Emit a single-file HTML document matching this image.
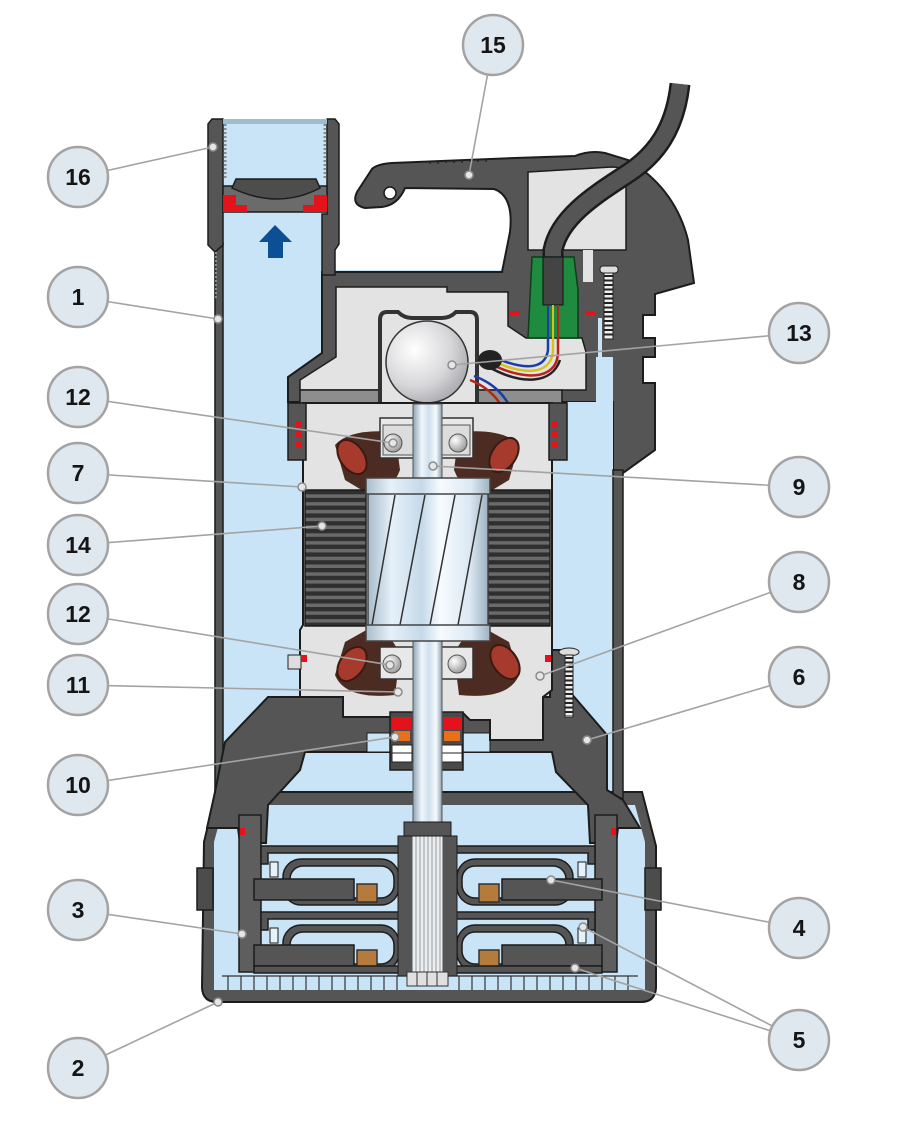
<!DOCTYPE html>
<html><head><meta charset="utf-8"><style>html,body{margin:0;padding:0;background:#fff;}svg{display:block;}</style></head>
<body>
<svg width="904" height="1141" viewBox="0 0 904 1141" xmlns="http://www.w3.org/2000/svg">
<defs>
<linearGradient id="gShaft" x1="0" x2="1" y1="0" y2="0">
<stop offset="0" stop-color="#8ea3b5"/><stop offset="0.3" stop-color="#eef5fb"/><stop offset="0.55" stop-color="#cfe0ee"/><stop offset="0.8" stop-color="#f5f9fc"/><stop offset="1" stop-color="#8a9cab"/>
</linearGradient>
<linearGradient id="gRotor" x1="0" x2="1">
<stop offset="0" stop-color="#a9bccb"/><stop offset="0.2" stop-color="#e6f1fa"/><stop offset="0.45" stop-color="#c5d9e8"/><stop offset="0.6" stop-color="#f7fbfe"/><stop offset="0.85" stop-color="#dbe8f3"/><stop offset="1" stop-color="#9fb1c0"/>
</linearGradient>
<radialGradient id="gCap" cx="0.35" cy="0.35" r="0.75">
<stop offset="0" stop-color="#ffffff"/><stop offset="0.6" stop-color="#d6d6d9"/><stop offset="1" stop-color="#a3a3a8"/>
</radialGradient>
<radialGradient id="gBall" cx="0.35" cy="0.35" r="0.7">
<stop offset="0" stop-color="#ffffff"/><stop offset="1" stop-color="#999"/>
</radialGradient>
<pattern id="pStator" x="0" y="490" width="10" height="7.8" patternUnits="userSpaceOnUse">
<rect width="10" height="7.8" fill="#6a6a6a"/><rect width="10" height="4.3" fill="#2f2f2f"/>
</pattern>
<g id="stage">
<path d="M261 846 L401 846 L401 853 L268 853 L268 864 L261 864 Z" fill="#555" stroke="#1c1c1c" stroke-width="1.5"/>
<rect x="283" y="859" width="116" height="46" rx="18" fill="#555" stroke="#1c1c1c" stroke-width="1.5"/>
<rect x="290" y="866" width="104" height="32" rx="13" fill="#c8e4f6" stroke="#1c1c1c" stroke-width="1.5"/>
<rect x="254" y="879" width="100" height="21" fill="#555" stroke="#1c1c1c" stroke-width="1.5"/>
<rect x="357" y="884" width="20" height="18" fill="#b57b3c" stroke="#333" stroke-width="1.5"/>
<rect x="270" y="862" width="8" height="15" fill="#e6f2fa" stroke="#1c1c1c" stroke-width="1"/>
</g>
</defs>

<!-- water -->
<rect x="214" y="120" width="120" height="160" fill="#c8e4f6"/>
<rect x="214" y="270" width="408" height="730" fill="#c8e4f6"/>

<!-- base shell -->
<path d="M216 792 L204 842 L202 988 Q203 1002 217 1002 L641 1002 Q655 1002 656 988 L656 846 L642 792 Z" fill="#555" stroke="#1c1c1c" stroke-width="2"/>
<path d="M224 805 L214 842 L214 990 L645 990 L645 842 L635 805 Z" fill="#c8e4f6"/>
<rect x="197" y="868" width="16" height="42" fill="#4c4c4c" stroke="#1c1c1c" stroke-width="1.5"/>
<rect x="645" y="868" width="16" height="42" fill="#4c4c4c" stroke="#1c1c1c" stroke-width="1.5"/>

<!-- top cover -->
<path d="M322 272 L502 272 L510 232 Q514 196 494 189 L405 188 Q398 205 382 207 L365 208 Q351 205 357 192 L372 169 Q377 164 392 163 L515 158 L575 156 Q590 150 605 153 L628 160 Q675 188 688 240 L694 283 L655 294 L655 315 L643 315 L643 338 L655 338 L655 357 L643 357 L643 383 L655 383 L655 450 L623 473 L613 473 L613 402 L288 402 L288 377 L322 353 Z" fill="#555" stroke="#1c1c1c" stroke-width="2"/>
<circle cx="390" cy="193" r="6" fill="#fff" stroke="#1c1c1c" stroke-width="1.5"/>
<g stroke="#1c1c1c" stroke-width="1.2">
<line x1="430" y1="161" x2="430" y2="164"/><line x1="438" y1="161" x2="438" y2="164"/><line x1="446" y1="160" x2="446" y2="163"/><line x1="454" y1="160" x2="454" y2="163"/><line x1="462" y1="160" x2="462" y2="163"/><line x1="470" y1="159" x2="470" y2="162"/><line x1="478" y1="159" x2="478" y2="162"/><line x1="486" y1="159" x2="486" y2="162"/>
</g>

<!-- blue channels right -->
<rect x="596" y="357" width="17" height="120" fill="#c8e4f6"/>
<rect x="567" y="402" width="46" height="80" fill="#c8e4f6"/>
<line x1="600" y1="318" x2="600" y2="357" stroke="#c8e4f6" stroke-width="4"/>

<!-- jacket walls -->
<rect x="613" y="470" width="10" height="328" fill="#555" stroke="#1c1c1c" stroke-width="1.5"/>
<rect x="215" y="243" width="8" height="550" fill="#555" stroke="#1c1c1c" stroke-width="1.5"/>

<!-- pipe fitting -->
<path d="M208 124 L212 119 L223 119 L223 245 L215 252 L208 245 Z" fill="#555" stroke="#1c1c1c" stroke-width="1.5"/>
<path d="M327 119 L335 119 L339 124 L339 244 L335 250 L335 275 L322 275 L322 214 L327 214 Z" fill="#555" stroke="#1c1c1c" stroke-width="1.5"/>
<rect x="223" y="119" width="104" height="5" fill="#9dbdd1"/>
<line x1="225" y1="124" x2="225" y2="178" stroke="#8a8a8a" stroke-width="3" stroke-dasharray="2 2"/>
<line x1="325" y1="124" x2="325" y2="178" stroke="#8a8a8a" stroke-width="3" stroke-dasharray="2 2"/>
<line x1="216" y1="252" x2="216" y2="300" stroke="#8a8a8a" stroke-width="2" stroke-dasharray="2 2"/>
<!-- valve -->
<rect x="223" y="186" width="104" height="26" fill="#6b6b6b" stroke="#1c1c1c" stroke-width="1.5"/>
<path d="M236 179 L316 179 L320 188 Q278 210 232 188 Z" fill="#4d4d4d" stroke="#1c1c1c" stroke-width="1.5"/>
<path d="M223 195 L236 195 L236 205 L247 205 L247 212 L223 212 Z" fill="#e3121b"/>
<path d="M327 195 L314 195 L314 205 L303 205 L303 212 L327 212 Z" fill="#e3121b"/>
<!-- arrow -->
<path d="M275 225 L292 242 L283 242 L283 258 L268 258 L268 242 L259 242 Z" fill="#0d4f94"/>

<!-- junction box -->
<path d="M528 172 L612 167 Q622 167 626 172 L626 250 L528 250 Z" fill="#e3e3e3" stroke="#1c1c1c" stroke-width="1.5"/>
<rect x="583" y="250" width="10" height="32" fill="#e3e3e3"/>
<!-- cable -->
<path d="M680 84 C675 130 655 155 630 172 C600 192 560 215 553 250 L553 258" fill="none" stroke="#1c1c1c" stroke-width="21"/>
<path d="M680 84 C675 130 655 155 630 172 C600 192 560 215 553 250 L553 258" fill="none" stroke="#555" stroke-width="16"/>
<!-- housing top interior -->
<polygon points="336,287 447,287 447,292 508,292 508,326 526,338 582,338 586,352 586,390 300,390 300,380 336,357" fill="#e3e3e3" stroke="#1c1c1c" stroke-width="1.5"/>
<!-- connector -->
<path d="M532 257 L574 257 L578 290 L578 338 L528 338 Z" fill="#1f8b3e" stroke="#0d3d1b" stroke-width="1.5"/>
<rect x="543" y="257" width="20" height="48" fill="#444" stroke="#111"/>
<line x1="548" y1="305" x2="548" y2="340" stroke="#1a3da8" stroke-width="2"/>
<line x1="553" y1="305" x2="553" y2="340" stroke="#d8c21a" stroke-width="2"/>
<line x1="558" y1="305" x2="558" y2="340" stroke="#b8231b" stroke-width="2"/>
<rect x="509" y="311" width="10" height="4" fill="#e3121b"/>
<rect x="586" y="311" width="10" height="4" fill="#e3121b"/>
<!-- screw top -->
<rect x="600" y="266" width="18" height="7" rx="3" fill="#ddd" stroke="#222"/>
<rect x="604" y="273" width="9" height="66" fill="#eee" stroke="#222"/>
<line x1="608.5" y1="275" x2="608.5" y2="337" stroke="#222" stroke-width="8" stroke-dasharray="2 2.5"/>

<!-- grey bar -->
<rect x="300" y="390" width="262" height="14" fill="#8e8e8e" stroke="#1c1c1c" stroke-width="1.5"/>
<!-- capacitor -->
<path d="M380 320 Q380 312 387 312 L398 312 Q404 318 412 318 L442 318 Q450 318 456 312 L470 312 Q477 312 477 320 L477 404 L380 404 Z" fill="#e3e3e3" stroke="#333" stroke-width="4"/>
<circle cx="427" cy="362" r="41" fill="url(#gCap)" stroke="#333" stroke-width="1.5"/>
<!-- wires -->
<path d="M487 354 C520 370 545 372 548 350 L548 338" fill="none" stroke="#1a3da8" stroke-width="2.5"/>
<path d="M487 358 C522 376 550 376 553 352 L553 338" fill="none" stroke="#d8c21a" stroke-width="2.5"/>
<path d="M487 362 C524 382 556 380 558 354 L558 338" fill="none" stroke="#b8231b" stroke-width="2.5"/>
<path d="M487 366 C522 386 552 384 560 360" fill="none" stroke="#222" stroke-width="2.5"/>
<ellipse cx="490" cy="360" rx="12" ry="10" fill="#222"/>
<path d="M470 380 C495 390 512 410 513 455" fill="none" stroke="#b8231b" stroke-width="2.5"/>
<path d="M474 376 C502 386 520 410 520 455" fill="none" stroke="#1a3da8" stroke-width="2.5"/>

<!-- lower dark housing (6) -->
<path d="M215 792 L225 742 L268 697 L550 697 L550 650 L568 650 L570 692 L607 735 L607 790 L623 800 L640 828 L618 828 L616 843 L590 843 L588 805 L556 772 L552 752 L305 752 L300 770 L268 805 L266 843 L240 843 L238 828 L207 828 Z" fill="#555" stroke="#1c1c1c" stroke-width="2"/>
<rect x="367" y="733" width="24" height="19" fill="#c8e4f6" stroke="#1c1c1c" stroke-width="1"/>
<rect x="462" y="733" width="28" height="19" fill="#c8e4f6" stroke="#1c1c1c" stroke-width="1"/>
<!-- screw 8 -->
<ellipse cx="569" cy="652" rx="10" ry="4" fill="#ddd" stroke="#222"/>
<rect x="565" y="655" width="8" height="62" fill="#eee" stroke="#222"/>
<line x1="569" y1="657" x2="569" y2="716" stroke="#222" stroke-width="7" stroke-dasharray="2 2.5"/>

<!-- motor housing light grey -->
<polygon points="303,403 552,403 552,690 543,697 543,740 490,740 490,720 470,720 463,713 393,713 390,717 343,717 343,697 300,697 300,630 303,625" fill="#e3e3e3" stroke="#1c1c1c" stroke-width="2"/>
<rect x="288" y="403" width="18" height="57" fill="#555" stroke="#1c1c1c" stroke-width="1.5"/>
<rect x="549" y="403" width="18" height="57" fill="#555" stroke="#1c1c1c" stroke-width="1.5"/>
<rect x="296" y="421" width="6" height="7" fill="#e3121b"/><rect x="296" y="431" width="6" height="7" fill="#e3121b"/><rect x="296" y="441" width="6" height="7" fill="#e3121b"/>
<rect x="552" y="421" width="6" height="7" fill="#e3121b"/><rect x="552" y="431" width="6" height="7" fill="#e3121b"/><rect x="552" y="441" width="6" height="7" fill="#e3121b"/>
<rect x="288" y="655" width="13" height="14" fill="#ddd" stroke="#222"/>
<rect x="301" y="655" width="6" height="7" fill="#e3121b"/>
<rect x="545" y="655" width="6" height="7" fill="#e3121b"/>

<!-- winding masses -->
<path d="M335 445 Q350 428 395 432 L400 470 Q390 495 370 495 L345 480 Z" fill="#4b2b22"/>
<path d="M335 445 Q350 428 395 432 L400 470 Q390 495 370 495 L345 480 Z" fill="#4b2b22" transform="matrix(-1 0 0 1 854 0)"/>
<path d="M335 675 Q345 700 395 695 L400 655 Q390 630 370 628 L345 642 Z" fill="#4b2b22"/>
<path d="M335 675 Q345 700 395 695 L400 655 Q390 630 370 628 L345 642 Z" fill="#4b2b22" transform="matrix(-1 0 0 1 854 0)"/>

<!-- bearings boxes -->
<rect x="380" y="418" width="93" height="40" fill="#e8e8e8" stroke="#333" stroke-width="1.5"/>
<rect x="383" y="425" width="87" height="30" fill="#dcdcdc" stroke="#555"/>
<rect x="380" y="647" width="93" height="32" fill="#e8e8e8" stroke="#333" stroke-width="1.5"/>

<!-- seal assembly -->
<rect x="390" y="712" width="73" height="58" fill="#4a4a4a" stroke="#1c1c1c" stroke-width="1.5"/>
<rect x="392" y="717" width="19" height="13" fill="#e3121b"/>
<rect x="443" y="717" width="19" height="13" fill="#e3121b"/>
<rect x="394" y="731" width="16" height="10" fill="#e8701a"/>
<rect x="444" y="731" width="16" height="10" fill="#e8701a"/>
<rect x="392" y="745" width="20" height="17" fill="#fff" stroke="#222"/>
<rect x="442" y="745" width="20" height="17" fill="#fff" stroke="#222"/>
<line x1="392" y1="753" x2="412" y2="753" stroke="#222"/><line x1="442" y1="753" x2="462" y2="753" stroke="#222"/>

<!-- shaft -->
<rect x="413" y="404" width="29" height="432" fill="url(#gShaft)" stroke="#555" stroke-width="1"/>
<circle cx="393" cy="443" r="9" fill="url(#gBall)" stroke="#555"/>
<circle cx="458" cy="443" r="9" fill="url(#gBall)" stroke="#555"/>
<circle cx="392" cy="664" r="9" fill="url(#gBall)" stroke="#555"/>
<circle cx="457" cy="664" r="9" fill="url(#gBall)" stroke="#555"/>

<!-- coils -->
<ellipse cx="352" cy="457" rx="19" ry="12" transform="rotate(55 352 457)" fill="#a63a2c" stroke="#3a1a12" stroke-width="2"/>
<ellipse cx="504" cy="455" rx="19" ry="12" transform="rotate(-55 504 455)" fill="#a63a2c" stroke="#3a1a12" stroke-width="2"/>
<ellipse cx="352" cy="664" rx="19" ry="12" transform="rotate(-55 352 664)" fill="#a63a2c" stroke="#3a1a12" stroke-width="2"/>
<ellipse cx="505" cy="662" rx="19" ry="12" transform="rotate(55 505 662)" fill="#a63a2c" stroke="#3a1a12" stroke-width="2"/>

<!-- stator -->
<rect x="305" y="490" width="61" height="136" fill="url(#pStator)" stroke="#1c1c1c" stroke-width="1.5"/>
<rect x="488" y="490" width="62" height="136" fill="url(#pStator)" stroke="#1c1c1c" stroke-width="1.5"/>
<!-- rotor -->
<rect x="368" y="493" width="120" height="134" fill="url(#gRotor)" stroke="#444" stroke-width="1.5"/>
<g stroke="#333" stroke-width="1.5">
<line x1="395" y1="495" x2="372" y2="625"/>
<line x1="425" y1="495" x2="400" y2="625"/>
<line x1="455" y1="495" x2="430" y2="625"/>
<line x1="482" y1="495" x2="458" y2="625"/>
</g>
<rect x="366" y="478" width="124" height="16" fill="url(#gRotor)" stroke="#444" stroke-width="1.5"/>
<rect x="366" y="625" width="124" height="16" fill="url(#gRotor)" stroke="#444" stroke-width="1.5"/>

<!-- pump stack -->
<rect x="239" y="815" width="22" height="157" fill="#5e5e5e" stroke="#1c1c1c" stroke-width="1.5"/>
<rect x="595" y="815" width="22" height="157" fill="#5e5e5e" stroke="#1c1c1c" stroke-width="1.5"/>
<rect x="240" y="828" width="5" height="7" fill="#e3121b"/>
<rect x="611" y="828" width="5" height="7" fill="#e3121b"/>
<use href="#stage"/>
<use href="#stage" transform="translate(0 66)"/>
<use href="#stage" transform="matrix(-1 0 0 1 856 0)"/>
<use href="#stage" transform="matrix(-1 0 0 1 856 66)"/>
<rect x="254" y="966" width="348" height="7" fill="#555" stroke="#1c1c1c" stroke-width="1.5"/>
<line x1="222" y1="976" x2="638" y2="976" stroke="#333" stroke-width="1.2"/>
<g stroke="#333" stroke-width="1.2">
<line x1="228" y1="976" x2="228" y2="990"/><line x1="241" y1="976" x2="241" y2="990"/><line x1="254" y1="976" x2="254" y2="990"/><line x1="267" y1="976" x2="267" y2="990"/><line x1="280" y1="976" x2="280" y2="990"/><line x1="293" y1="976" x2="293" y2="990"/><line x1="306" y1="976" x2="306" y2="990"/><line x1="319" y1="976" x2="319" y2="990"/><line x1="332" y1="976" x2="332" y2="990"/><line x1="345" y1="976" x2="345" y2="990"/><line x1="358" y1="976" x2="358" y2="990"/><line x1="371" y1="976" x2="371" y2="990"/><line x1="384" y1="976" x2="384" y2="990"/><line x1="397" y1="976" x2="397" y2="990"/>
<line x1="459" y1="976" x2="459" y2="990"/><line x1="472" y1="976" x2="472" y2="990"/><line x1="485" y1="976" x2="485" y2="990"/><line x1="498" y1="976" x2="498" y2="990"/><line x1="511" y1="976" x2="511" y2="990"/><line x1="524" y1="976" x2="524" y2="990"/><line x1="537" y1="976" x2="537" y2="990"/><line x1="550" y1="976" x2="550" y2="990"/><line x1="563" y1="976" x2="563" y2="990"/><line x1="576" y1="976" x2="576" y2="990"/><line x1="589" y1="976" x2="589" y2="990"/><line x1="602" y1="976" x2="602" y2="990"/><line x1="615" y1="976" x2="615" y2="990"/><line x1="628" y1="976" x2="628" y2="990"/>
</g>
<!-- hub and splined shaft -->
<rect x="398" y="836" width="14" height="140" fill="#555" stroke="#1c1c1c"/>
<rect x="443" y="836" width="14" height="140" fill="#555" stroke="#1c1c1c"/>
<rect x="412" y="836" width="31" height="140" fill="#e9eef2" stroke="#555"/>
<g stroke="#9a9a9a" stroke-width="1">
<line x1="416" y1="836" x2="416" y2="976"/><line x1="420" y1="836" x2="420" y2="976"/><line x1="424" y1="836" x2="424" y2="976"/><line x1="428" y1="836" x2="428" y2="976"/><line x1="432" y1="836" x2="432" y2="976"/><line x1="436" y1="836" x2="436" y2="976"/><line x1="440" y1="836" x2="440" y2="976"/>
</g>
<rect x="404" y="822" width="47" height="14" fill="#555" stroke="#1c1c1c"/>
<rect x="407" y="972" width="41" height="14" fill="#e0e0e0" stroke="#333"/>
<g stroke="#333"><line x1="417" y1="972" x2="417" y2="986"/><line x1="427" y1="972" x2="427" y2="986"/><line x1="437" y1="972" x2="437" y2="986"/></g>

<!-- leader lines -->
<g stroke="#a3a3a3" stroke-width="1.6">
<line x1="78" y1="177" x2="213" y2="147"/>
<line x1="78" y1="297" x2="218" y2="319"/>
<line x1="493" y1="45" x2="469" y2="175"/>
<line x1="799" y1="333" x2="452" y2="365"/>
<line x1="78" y1="397" x2="393" y2="443"/>
<line x1="78" y1="473" x2="302" y2="487"/>
<line x1="78" y1="545" x2="322" y2="526"/>
<line x1="799" y1="487" x2="433" y2="466"/>
<line x1="78" y1="614" x2="390" y2="665"/>
<line x1="78" y1="685" x2="398" y2="692"/>
<line x1="799" y1="582" x2="540" y2="676"/>
<line x1="799" y1="677" x2="587" y2="740"/>
<line x1="78" y1="785" x2="395" y2="737"/>
<line x1="78" y1="910" x2="242" y2="934"/>
<line x1="78" y1="1068" x2="218" y2="1002"/>
<line x1="799" y1="928" x2="551" y2="880"/>
<line x1="799" y1="1040" x2="583" y2="927"/>
<line x1="799" y1="1040" x2="575" y2="968"/>
</g>
<g fill="#e6e6e6" stroke="#8c8c8c" stroke-width="1.5">
<circle cx="213" cy="147" r="4"/><circle cx="218" cy="319" r="4"/><circle cx="469" cy="175" r="4"/><circle cx="452" cy="365" r="4"/>
<circle cx="393" cy="443" r="4"/><circle cx="302" cy="487" r="4"/><circle cx="322" cy="526" r="4"/><circle cx="433" cy="466" r="4"/>
<circle cx="390" cy="665" r="4"/><circle cx="398" cy="692" r="4"/><circle cx="540" cy="676" r="4"/><circle cx="587" cy="740" r="4"/>
<circle cx="395" cy="737" r="4"/><circle cx="242" cy="934" r="4"/><circle cx="218" cy="1002" r="4"/><circle cx="551" cy="880" r="4"/>
<circle cx="583" cy="927" r="4"/><circle cx="575" cy="968" r="4"/>
</g>

<!-- callouts -->
<g fill="#dfe7ef" stroke="#a3a3a3" stroke-width="2.5">
<circle cx="493" cy="45" r="30"/>
<circle cx="78" cy="177" r="30"/>
<circle cx="78" cy="297" r="30"/>
<circle cx="799" cy="333" r="30"/>
<circle cx="78" cy="397" r="30"/>
<circle cx="78" cy="473" r="30"/>
<circle cx="799" cy="487" r="30"/>
<circle cx="78" cy="545" r="30"/>
<circle cx="799" cy="582" r="30"/>
<circle cx="78" cy="614" r="30"/>
<circle cx="799" cy="677" r="30"/>
<circle cx="78" cy="685" r="30"/>
<circle cx="78" cy="785" r="30"/>
<circle cx="78" cy="910" r="30"/>
<circle cx="799" cy="928" r="30"/>
<circle cx="799" cy="1040" r="30"/>
<circle cx="78" cy="1068" r="30"/>
</g>
<g font-family="Liberation Sans, Arial, sans-serif" font-weight="bold" font-size="23" fill="#151515" text-anchor="middle">
<text x="493" y="53">15</text>
<text x="78" y="185">16</text>
<text x="78" y="305">1</text>
<text x="799" y="341">13</text>
<text x="78" y="405">12</text>
<text x="78" y="481">7</text>
<text x="799" y="495">9</text>
<text x="78" y="553">14</text>
<text x="799" y="590">8</text>
<text x="78" y="622">12</text>
<text x="799" y="685">6</text>
<text x="78" y="693">11</text>
<text x="78" y="793">10</text>
<text x="78" y="918">3</text>
<text x="799" y="936">4</text>
<text x="799" y="1048">5</text>
<text x="78" y="1076">2</text>
</g>
</svg>
</body></html>
